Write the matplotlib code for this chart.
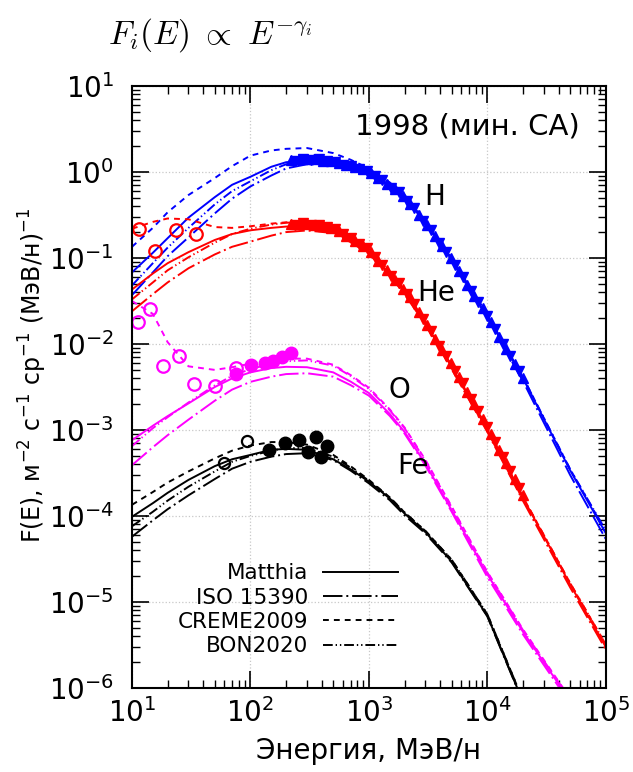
import numpy as np
import matplotlib
matplotlib.use('Agg')
import matplotlib.pyplot as plt

# энергетическая сетка для модельных кривых, МэВ/н
energy = [10, 15, 20, 30, 50, 70, 100, 150, 200, 300, 500, 700, 1000, 1500, 2000, 3000, 5000, 1e4, 2e4, 5e4, 1e5]

# H (протоны)
h_matthia = [0.068, 0.115, 0.17, 0.295, 0.51, 0.71, 0.88, 1.15, 1.30, 1.35, 1.27, 1.15, 0.98, 0.69, 0.50, 0.258, 0.095, 0.021, 4.0e-3, 3.4e-4, 6.3e-5]
h_iso = [0.037, 0.068, 0.105, 0.174, 0.33, 0.49, 0.68, 0.91, 1.10, 1.23, 1.23, 1.11, 0.95, 0.676, 0.49, 0.252, 0.093, 0.020, 3.7e-3, 3.0e-4, 5.4e-5]
h_creme = [0.135, 0.224, 0.34, 0.54, 0.85, 1.17, 1.55, 1.78, 1.86, 1.90, 1.66, 1.39, 1.10, 0.757, 0.54, 0.274, 0.10, 0.022, 4.1e-3, 3.5e-4, 6.6e-5]
h_bon = [0.048, 0.087, 0.132, 0.224, 0.42, 0.60, 0.78, 1.05, 1.23, 1.32, 1.29, 1.167, 1.0, 0.708, 0.51, 0.267, 0.10, 0.0214, 4.1e-3, 3.5e-4, 6.8e-5]

# He
he_matthia = [0.043, 0.066, 0.087, 0.117, 0.162, 0.19, 0.21, 0.224, 0.232, 0.232, 0.21, 0.162, 0.117, 0.0653, 0.040, 0.0176, 5.4e-3, 1.0e-3, 1.62e-4, 1.6e-5, 3.0e-6]
he_iso = [0.024, 0.038, 0.052, 0.076, 0.11, 0.135, 0.155, 0.182, 0.20, 0.209, 0.195, 0.153, 0.112, 0.0624, 0.038, 0.0168, 5.1e-3, 9.5e-4, 1.5e-4, 1.48e-5, 2.8e-6]
he_creme = [0.219, 0.263, 0.288, 0.282, 0.229, 0.224, 0.234, 0.251, 0.26, 0.263, 0.24, 0.179, 0.126, 0.069, 0.042, 0.0184, 5.6e-3, 1.05e-3, 1.66e-4, 1.66e-5, 3.2e-6]
he_bon = [0.033, 0.052, 0.072, 0.102, 0.151, 0.19, 0.219, 0.245, 0.257, 0.263, 0.234, 0.177, 0.126, 0.069, 0.042, 0.0184, 5.6e-3, 1.05e-3, 1.66e-4, 1.66e-5, 3.2e-6]

# O
o_matthia = [7.6e-4, 1.12e-3, 1.45e-3, 2.04e-3, 3.16e-3, 3.98e-3, 4.68e-3, 5.25e-3, 5.43e-3, 5.37e-3, 4.68e-3, 3.66e-3, 2.69e-3, 1.54e-3, 9.5e-4, 4.05e-4, 1.17e-4, 2.1e-5, 4.5e-6, 7.1e-7, 1.74e-7]
o_iso = [3.9e-4, 6.3e-4, 8.7e-4, 1.32e-3, 2.19e-3, 2.95e-3, 3.63e-3, 4.17e-3, 4.47e-3, 4.57e-3, 4.17e-3, 3.33e-3, 2.51e-3, 1.46e-3, 9.1e-4, 3.86e-4, 1.12e-4, 1.95e-5, 4.2e-6, 6.6e-7, 1.66e-7]
o_creme = [0.0316, 0.0224, 0.0105, 5.5e-3, 5.0e-3, 5.37e-3, 5.9e-3, 6.45e-3, 6.76e-3, 6.76e-3, 5.75e-3, 4.36e-3, 3.1e-3, 1.74e-3, 1.07e-3, 4.5e-4, 1.29e-4, 2.24e-5, 4.8e-6, 7.6e-7, 1.9e-7]
o_bon = [6.5e-4, 1.05e-3, 1.41e-3, 2.09e-3, 3.3e-3, 4.27e-3, 5.1e-3, 5.9e-3, 6.3e-3, 6.45e-3, 5.6e-3, 4.26e-3, 3.0e-3, 1.70e-3, 1.05e-3, 4.4e-4, 1.26e-4, 2.2e-5, 4.7e-6, 7.4e-7, 1.86e-7]

# Fe
fe_matthia = [9.8e-5, 1.41e-4, 1.86e-4, 2.63e-4, 3.8e-4, 4.57e-4, 5.13e-4, 5.89e-4, 6.03e-4, 5.89e-4, 4.57e-4, 3.5e-4, 2.51e-4, 1.6e-4, 1.07e-4, 6.5e-5, 2.95e-5, 6.9e-6, 6.9e-7, 3.2e-8, 3.2e-9]
fe_iso = [5.75e-5, 8.9e-5, 1.2e-4, 1.74e-4, 2.69e-4, 3.55e-4, 4.27e-4, 4.9e-4, 5.25e-4, 5.37e-4, 4.47e-4, 3.38e-4, 2.4e-4, 1.53e-4, 1.02e-4, 6.27e-5, 2.88e-5, 6.8e-6, 6.8e-7, 3.2e-8, 3.2e-9]
fe_creme = [1.35e-4, 1.9e-4, 2.45e-4, 3.3e-4, 4.68e-4, 5.75e-4, 6.6e-4, 7.24e-4, 7.24e-4, 6.76e-4, 5.13e-4, 3.8e-4, 2.63e-4, 1.65e-4, 1.1e-4, 6.7e-5, 3.1e-5, 7.2e-6, 7.2e-7, 3.2e-8, 3.2e-9]
fe_bon = [7.6e-5, 1.12e-4, 1.51e-4, 2.19e-4, 3.3e-4, 4.27e-4, 5.0e-4, 5.75e-4, 6.17e-4, 6.17e-4, 4.9e-4, 3.66e-4, 2.57e-4, 1.64e-4, 1.1e-4, 6.7e-5, 3.1e-5, 7.2e-6, 7.2e-7, 3.2e-8, 3.2e-9]

# измерения 1998 г. для H и He: два набора (треугольники вверх / вниз)
tri_up_e = [219, 257, 302, 347, 407, 479, 562, 646, 759, 891, 1047, 1202, 1413, 1660, 1950,
            2239, 2630, 3090, 3631, 4169, 4898, 5754, 6761, 7762, 9120, 10715, 12589, 14454, 16982, 19953]
h_up = [1.38, 1.40, 1.42, 1.40, 1.36, 1.33, 1.27, 1.20, 1.14, 1.07, 0.98, 0.86, 0.73, 0.63, 0.53,
        0.42, 0.32, 0.24, 0.18, 0.138, 0.10, 0.070, 0.049, 0.036, 0.026, 0.0178, 0.012, 0.0087, 0.0059, 0.0040]
he_up = [0.251, 0.251, 0.251, 0.245, 0.237, 0.226, 0.204, 0.182, 0.158, 0.138, 0.117, 0.093, 0.072, 0.056, 0.044,
         0.035, 0.0234, 0.0166, 0.0115, 0.0085, 0.0060, 0.0041, 0.00275, 0.0020, 0.00135, 8.9e-4, 5.9e-4, 4.1e-4, 2.7e-4, 1.74e-4]
tri_dn_e = [237, 279, 324, 376, 443, 519, 603, 700, 822, 966, 1122, 1303, 1531, 1799, 2089,
            2427, 2851, 3350, 3890, 4519, 5309, 6237, 7244, 8414, 9886, 11614, 13490, 15668, 18408]
h_dn = [1.36, 1.43, 1.39, 1.40, 1.33, 1.31, 1.22, 1.18, 1.09, 1.03, 0.90, 0.80, 0.66, 0.59, 0.46,
        0.38, 0.27, 0.21, 0.150, 0.119, 0.082, 0.060, 0.041, 0.0312, 0.021, 0.0149, 0.0100, 0.0073, 0.0048]
he_dn = [0.245, 0.256, 0.244, 0.243, 0.228, 0.218, 0.190, 0.172, 0.145, 0.129, 0.102, 0.084, 0.062, 0.051, 0.038,
         0.0292, 0.0193, 0.0140, 0.0096, 0.0072, 0.0049, 0.0035, 0.0023, 0.00166, 0.00108, 7.3e-4, 4.8e-4, 3.35e-4, 2.1e-4]

# низкоэнергичные точки (открытые кружки) и точки 1998 г. (закрашенные)
he_low_e = [11.5, 15.6, 23.5, 34.6]
he_low = [0.216, 0.122, 0.212, 0.189]
o_low_e = [11.3, 14.2, 18.2, 24.9, 33.5, 50.1, 75.2]
o_low = [0.0182, 0.0253, 0.00555, 0.00724, 0.00343, 0.00323, 0.00525]
o_hi_e = [75.3, 102, 133, 155, 184, 222]
o_hi = [0.00447, 0.00575, 0.00603, 0.00631, 0.0070, 0.0079]
fe_low_e = [60, 93]
fe_low = [4.17e-4, 7.4e-4]
fe_hi_e = [144, 195, 256, 307, 357, 398, 444]
fe_hi = [5.9e-4, 7.1e-4, 7.6e-4, 5.5e-4, 8.2e-4, 4.9e-4, 6.5e-4]

x_ticks = [1e1, 1e2, 1e3, 1e4, 1e5]
y_ticks = [1e-6, 1e-5, 1e-4, 1e-3, 1e-2, 1e-1, 1e0, 1e1]

ions = [
    ('#0000ff', h_matthia, h_iso, h_creme, h_bon),
    ('#ff0000', he_matthia, he_iso, he_creme, he_bon),
    ('#ff00ff', o_matthia, o_iso, o_creme, o_bon),
    ('black', fe_matthia, fe_iso, fe_creme, fe_bon),
]

styles = {
    'Matthia': '-',
    'ISO 15390': (0, (10, 2, 1, 2)),
    'CREME2009': (0, (3, 2.6)),
    'BON2020': (0, (5, 1.5, 0.7, 1.5, 0.7, 1.5)),
}

fig = plt.figure(figsize=(6.33, 7.72), dpi=100)
ax = fig.add_axes([0.2085, 0.1088, 0.7485, 0.7798])

lw = 1.4
for color, m, iso, cr, bon in ions:
    ax.plot(energy, m, color=color, lw=lw, ls=styles['Matthia'])
    ax.plot(energy, iso, color=color, lw=lw, ls=styles['ISO 15390'])
    ax.plot(energy, cr, color=color, lw=lw, ls=styles['CREME2009'])
    ax.plot(energy, bon, color=color, lw=lw, ls=styles['BON2020'])

ax.plot(tri_up_e, h_up, '^', color='#0000ff', ms=7.5)
ax.plot(tri_dn_e, h_dn, 'v', color='#0000ff', ms=7.5)
ax.plot(tri_up_e, he_up, '^', color='#ff0000', ms=7.5)
ax.plot(tri_dn_e, he_dn, 'v', color='#ff0000', ms=7.5)

ax.plot(he_low_e, he_low, 'o', mfc='none', mec='#ff0000', ms=9, mew=1.6)
ax.plot(o_low_e, o_low, 'o', mfc='none', mec='#ff00ff', ms=9, mew=1.6)
ax.plot(o_hi_e, o_hi, 'o', color='#ff00ff', ms=9)
ax.plot(fe_low_e, fe_low, 'o', mfc='none', mec='black', ms=8, mew=1.6)
ax.plot(fe_hi_e, fe_hi, 'o', color='black', ms=9)

ax.set_xscale('log')
ax.set_yscale('log')
ax.set_xlim(10, 1e5)
ax.set_ylim(1e-6, 10)
ax.xaxis.set_major_locator(matplotlib.ticker.FixedLocator(x_ticks))
ax.yaxis.set_major_locator(matplotlib.ticker.FixedLocator(y_ticks))
ax.xaxis.set_major_formatter(matplotlib.ticker.LogFormatterSciNotation())
ax.yaxis.set_major_formatter(matplotlib.ticker.LogFormatterSciNotation())

ax.grid(True, which='major', color='#c8c8c8', ls=':', lw=0.9)
ax.tick_params(which='both', direction='in', top=True, right=True, labelsize=20)
ax.tick_params(axis='x', pad=7)
ax.tick_params(axis='y', pad=13)
ax.tick_params(which='major', length=12, width=1.2)
ax.tick_params(which='minor', length=6, width=1.0)
ax.yaxis.set_minor_locator(matplotlib.ticker.LogLocator(base=10, subs=np.arange(2, 10), numticks=20))
ax.yaxis.set_minor_formatter(matplotlib.ticker.NullFormatter())
ax.xaxis.set_minor_formatter(matplotlib.ticker.NullFormatter())
for s in ax.spines.values():
    s.set_linewidth(1.5)

ax.set_xlabel('Энергия, МэВ/н', fontsize=20)
ax.set_ylabel('F(E), м$^{-2}$ с$^{-1}$ ср$^{-1}$ (МэВ/н)$^{-1}$', fontsize=17)
ax.xaxis.set_label_coords(0.5, -0.082)
ax.yaxis.set_label_coords(-0.175, 0.52)

ax.text(0.707, 0.932, '1998 (мин. СА)', transform=ax.transAxes, fontsize=21, ha='center', va='center')
ax.text(0.639, 0.816, 'H', transform=ax.transAxes, fontsize=20, ha='center', va='center')
ax.text(0.643, 0.656, 'He', transform=ax.transAxes, fontsize=20, ha='center', va='center')
ax.text(0.565, 0.495, 'O', transform=ax.transAxes, fontsize=20, ha='center', va='center')
ax.text(0.593, 0.369, 'Fe', transform=ax.transAxes, fontsize=20, ha='center', va='center')

handles = [plt.Line2D([], [], color='black', lw=lw, ls=st) for st in styles.values()]
ax.legend(handles, list(styles.keys()), loc='center right', bbox_to_anchor=(0.58, 0.13),
          frameon=False, markerfirst=False, fontsize=15.5, handlelength=3.5,
          labelspacing=0.2, handletextpad=0.7, borderaxespad=0)

fig.text(0.17, 0.955, r'$F_i(E)\ \propto\ E^{-\gamma_i}$', fontsize=24,
         math_fontfamily='cm', va='center')

fig.savefig('out.png', dpi=100)
